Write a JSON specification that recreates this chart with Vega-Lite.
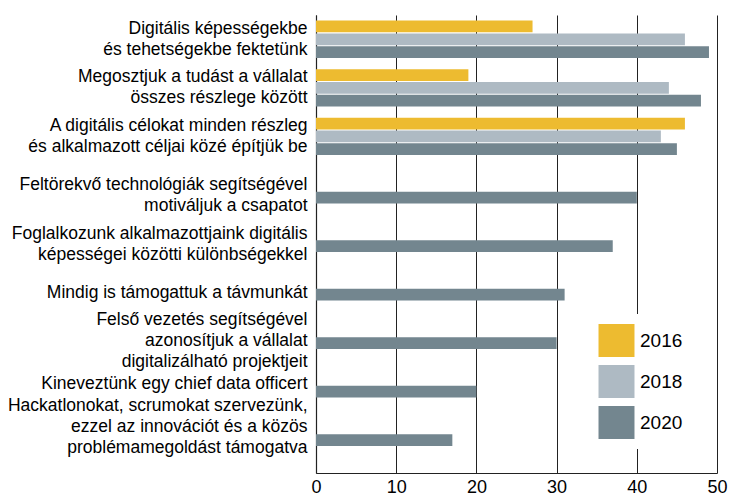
{
  "$schema": "https://vega.github.io/schema/vega-lite/v6.json",
  "width": 401,
  "height": 458,
  "autosize": {"type": "none"},
  "padding": {"left": 316, "top": 15, "right": 13, "bottom": 25},
  "background": "white",
  "config": {"font": "Liberation Sans", "view": {"stroke": null}},
  "data": {
    "values": [
      {"cat": "Digitális képességekbe|és tehetségekbe fektetünk", "year": "2016", "value": 27},
      {"cat": "Digitális képességekbe|és tehetségekbe fektetünk", "year": "2018", "value": 46},
      {"cat": "Digitális képességekbe|és tehetségekbe fektetünk", "year": "2020", "value": 49},
      {"cat": "Megosztjuk a tudást a vállalat|összes részlege között", "year": "2016", "value": 19},
      {"cat": "Megosztjuk a tudást a vállalat|összes részlege között", "year": "2018", "value": 44},
      {"cat": "Megosztjuk a tudást a vállalat|összes részlege között", "year": "2020", "value": 48},
      {"cat": "A digitális célokat minden részleg|és alkalmazott céljai közé építjük be", "year": "2016", "value": 46},
      {"cat": "A digitális célokat minden részleg|és alkalmazott céljai közé építjük be", "year": "2018", "value": 43},
      {"cat": "A digitális célokat minden részleg|és alkalmazott céljai közé építjük be", "year": "2020", "value": 45},
      {"cat": "Feltörekvő technológiák segítségével|motiváljuk a csapatot", "year": "2020", "value": 40},
      {"cat": "Foglalkozunk alkalmazottjaink digitális|képességei közötti különbségekkel", "year": "2020", "value": 37},
      {"cat": "Mindig is támogattuk a távmunkát", "year": "2020", "value": 31},
      {"cat": "Felső vezetés segítségével|azonosítjuk  a vállalat|digitalizálható projektjeit", "year": "2020", "value": 30},
      {"cat": "Kineveztünk egy chief data officert", "year": "2020", "value": 20},
      {"cat": "Hackatlonokat, scrumokat szervezünk,|ezzel az innovációt és a közös|problémamegoldást támogatva", "year": "2020", "value": 17}
    ]
  },
  "mark": {"type": "bar"},
  "encoding": {
    "y": {
      "field": "cat",
      "type": "nominal",
      "sort": null,
      "scale": {"paddingInner": 0, "paddingOuter": 0.22, "align": 0},
      "axis": {
        "title": null,
        "labelExpr": "split(datum.label, '|')",
        "labelFontSize": 17.5,
        "labelLineHeight": 21,
        "labelColor": "#000",
        "labelLimit": 400,
        "labelPadding": 9,
        "labelOffset": {"expr": "-(length(split(datum.value, '|')) - 1) * 10.5 + (test(regexp('^Kinev'), datum.value) ? 5 : test(regexp('^(Feltör|Foglal|Mindig|Felső)'), datum.value) ? 11 : 0)"},
        "ticks": false,
        "grid": false,
        "domain": true,
        "domainColor": "#222",
        "domainWidth": 1.2
      }
    },
    "yOffset": {
      "field": "year",
      "type": "nominal",
      "scale": {"paddingInner": 0.08, "paddingOuter": 0.44}
    },
    "x": {
      "field": "value",
      "type": "quantitative",
      "scale": {"domain": [0, 50]},
      "axis": {
        "title": null,
        "values": [0, 10, 20, 30, 40, 50],
        "grid": true,
        "gridColor": "#222",
        "gridWidth": 1,
        "ticks": false,
        "domainColor": "#222",
        "domainWidth": 1.2,
        "labelFontSize": 18,
        "labelColor": "#000",
        "labelPadding": 5,
        "labelFlush": false
      }
    },
    "color": {
      "field": "year",
      "type": "nominal",
      "scale": {"domain": ["2016", "2018", "2020"], "range": ["#EDBB30", "#AEBAC3", "#73868F"]},
      "legend": {
        "title": null,
        "orient": "bottom-right",
        "offset": 24,
        "padding": 10,
        "fillColor": "white",
        "symbolType": "M-1.09,-1H1.09V1H-1.09Z",
        "symbolSize": 1089,
        "symbolStrokeWidth": 0,
        "symbolOpacity": 1,
        "labelFontSize": 19,
        "labelColor": "#000",
        "labelOffset": 7,
        "rowPadding": 8
      }
    }
  }
}
